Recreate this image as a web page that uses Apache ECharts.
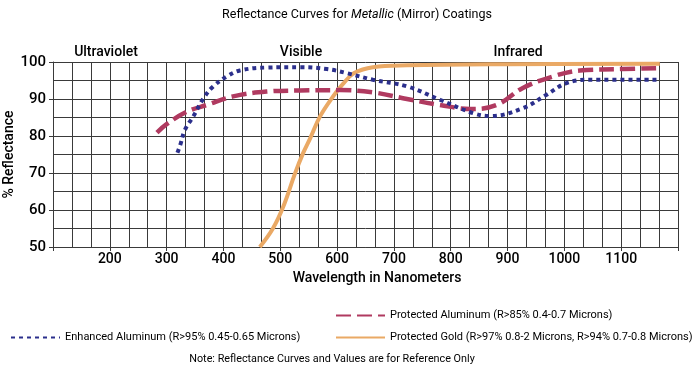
<!DOCTYPE html>
<html>
<head>
<meta charset="utf-8">
<script src="https://cdn.jsdelivr.net/npm/echarts@6/dist/echarts.min.js"></script>
<style>html,body{margin:0;padding:0;background:#fff}#c{width:696px;height:369px}</style>
</head>
<body>
<div id="c"></div>
<script>
const FONT = "Roboto,'Liberation Sans',sans-serif";

const titleText = 'Reflectance Curves for ';
const titleItalic = 'Metallic';
const titleRest = ' (Mirror) Coatings';
const regionLabels = ['Ultraviolet', 'Visible', 'Infrared'];
const xAxisName = 'Wavelength in Nanometers';
const yAxisName = '% Reflectance';
const noteText = 'Note: Reflectance Curves and Values are for Reference Only';

const seriesNames = [
  'Protected Aluminum (R>85% 0.4-0.7 Microns)',
  'Enhanced Aluminum (R>95% 0.45-0.65 Microns)',
  'Protected Gold (R>97% 0.8-2 Microns, R>94% 0.7-0.8 Microns)'
];

// [wavelength nm, reflectance %]
const protectedAluminum = [
  [283, 80.9], [300, 83.2], [336, 86.6], [371, 88.4], [417, 90.7], [476, 92.0],
  [535, 92.3], [605, 92.4], [663, 91.8], [723, 90.0], [781, 88.4], [834, 87.3],
  [881, 88.4], [927, 93.0], [980, 96.1], [1027, 97.7], [1103, 98.1], [1168, 98.3]
];
const enhancedAluminum = [
  [319, 75.5], [324, 77.6], [332, 81.6], [347, 85.3], [365, 90.2], [382, 93.4],
  [406, 96.1], [429, 97.7], [476, 98.5], [535, 98.6], [582, 98.1], [617, 97.0],
  [663, 95.2], [723, 93.4], [781, 89.8], [839, 86.2], [869, 85.4], [927, 87.5],
  [968, 91.1], [1004, 94.3], [1045, 95.2], [1168, 95.2]
];
const protectedGold = [
  [464, 50.0], [487, 55.0], [505, 60.8], [526, 69.9], [540, 75.3], [553, 79.5],
  [570, 85.3], [593, 90.7], [610, 94.0], [630, 97.0], [663, 98.6], [723, 99.1],
  [899, 99.4], [1168, 99.5]
];

const xMin = 100, xMax = 1200, xStep = 100;
const yMin = 50, yMax = 100, yStep = 10;

const chart = echarts.init(document.getElementById('c'));
const gridColor = '#3a3a3a';
const txt = (size, extra) => Object.assign({ fontFamily: FONT, fontSize: size, fontWeight: 500, color: '#000' }, extra || {});

chart.setOption({
  animation: false,
  backgroundColor: '#fff',
  title: [
    {
      text: '{n|' + titleText + '}{i|' + titleItalic + '}{n|' + titleRest + '}',
      left: 352, top: 3, textAlign: 'center',
      textStyle: { rich: {
        n: txt(12.5, { fontWeight: 'normal' }),
        i: txt(12.5, { fontWeight: 'normal', fontStyle: 'italic' })
      } }
    },
    { text: regionLabels[0], left: 101, top: 40, textAlign: 'center', textStyle: txt(14) },
    { text: regionLabels[1], left: 296, top: 40, textAlign: 'center', textStyle: txt(14) },
    { text: regionLabels[2], left: 513, top: 40, textAlign: 'center', textStyle: txt(14) },
    { text: noteText, left: 327, top: 349, textAlign: 'center', textStyle: txt(10.8, { fontWeight: 'normal' }) }
  ],
  legend: [
    {
      data: [seriesNames[0]], left: 330, top: 305, itemWidth: 49, itemHeight: 14, itemGap: 7,
      itemStyle: { opacity: 0 }, textStyle: txt(11, { fontWeight: 'normal' })
    },
    {
      data: [seriesNames[1]], left: 5, top: 327, itemWidth: 49, itemHeight: 14, itemGap: 6,
      itemStyle: { opacity: 0 }, textStyle: txt(11, { fontWeight: 'normal' })
    },
    {
      data: [seriesNames[2]], left: 330, top: 327, itemWidth: 49, itemHeight: 14, itemGap: 7,
      itemStyle: { opacity: 0 }, textStyle: txt(11, { fontWeight: 'normal' })
    }
  ],
  grid: { left: 53, right: 18, top: 62, bottom: 122, containLabel: false, outerBoundsMode: 'none' },
  xAxis: {
    type: 'value', min: xMin, max: xMax, interval: xStep,
    name: xAxisName, nameLocation: 'middle', nameGap: 24, nameMoveOverlap: false,
    nameTextStyle: txt(14, { padding: [0, 0, 0, 23] }),
    axisLine: { show: true, lineStyle: { color: gridColor, width: 1 } },
    axisTick: { show: true, length: 4, lineStyle: { color: gridColor } },
    axisLabel: Object.assign(txt(14), {
      margin: 5,
      formatter: v => (v === xMin || v === xMax) ? '' : String(v)
    }),
    splitLine: { show: true, lineStyle: { color: gridColor, width: 1 } },
    minorTick: { show: false, splitNumber: 3 },
    minorSplitLine: { show: true, lineStyle: { color: gridColor, width: 1 } }
  },
  yAxis: {
    type: 'value', min: yMin, max: yMax, interval: yStep,
    name: yAxisName, nameLocation: 'middle', nameGap: 37, nameMoveOverlap: false,
    nameTextStyle: txt(14),
    axisLine: { show: true, lineStyle: { color: gridColor, width: 1 } },
    axisTick: { show: true, length: 4, lineStyle: { color: gridColor } },
    axisLabel: Object.assign(txt(15), { margin: 7 }),
    splitLine: { show: true, lineStyle: { color: gridColor, width: 1 } },
    minorTick: { show: false, splitNumber: 2 },
    minorSplitLine: { show: true, lineStyle: { color: gridColor, width: 1 } }
  },
  series: [
    {
      name: seriesNames[0], type: 'line', data: protectedAluminum, smooth: 0.4, symbol: 'none',
      color: '#b03a60',
      lineStyle: { color: '#b03a60', width: 4.5, type: [15, 6], cap: 'butt' }, z: 3
    },
    {
      name: seriesNames[1], type: 'line', data: enhancedAluminum, smooth: 0.4, symbol: 'none',
      color: '#2b2f8c',
      lineStyle: { color: '#2b2f8c', width: 4, type: [4, 4], cap: 'butt' }, z: 4
    },
    {
      name: seriesNames[2], type: 'line', data: protectedGold, smooth: 0.4, symbol: 'none',
      color: '#eaa965',
      lineStyle: { color: '#eaa965', width: 4, type: 'solid' }, z: 2
    }
  ]
});
</script>
</body>
</html>
